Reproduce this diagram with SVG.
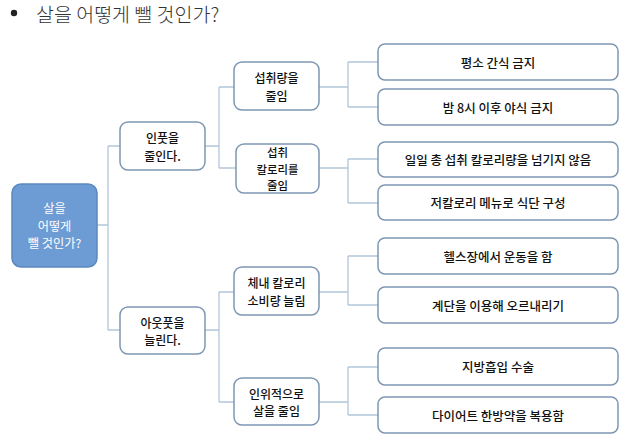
<svg xmlns="http://www.w3.org/2000/svg" width="631" height="445" viewBox="0 0 631 445">
<style>
text{font-family:"Noto Sans CJK KR","Noto Sans",sans-serif;text-anchor:middle;dominant-baseline:central;fill:#111;font-size:12px;font-weight:500}
.lf{font-size:12.5px}
.sm{font-size:11.4px}
.box{fill:#fff;stroke:#7d96b2;stroke-width:1.5}
.root{fill:#6d9bd3;stroke:#5b88bf;stroke-width:1.5}
.rt{fill:#fff;font-size:12.2px;font-weight:400}
#connectors path{fill:none;stroke:#b3c6da;stroke-width:1.3}
</style>
<rect width="631" height="445" fill="#fff"/>
<g id="title">
<circle cx="14" cy="13" r="3.2" fill="#222"/>
<text x="36" y="13" style="text-anchor:start;font-size:19.5px;fill:#333;font-weight:300">살을 어떻게 뺄 것인가?</text>
</g>
<g id="connectors">
<path d="M97 225H108M108 146V330M108 146H120M108 330H120"/>
<path d="M205 146H219M219 87V168M219 87H234M219 168H236"/>
<path d="M205 330H219M219 292V402M219 292H234M219 402H234"/>
<path d="M319 87H348M348 62V107M348 62H378M348 107H378"/>
<path d="M319 168H348M348 159V203M348 159H378M348 203H378"/>
<path d="M319 292H348M348 256V305M348 256H378M348 305H378"/>
<path d="M319 402H348M348 367V415M348 367H378M348 415H378"/>
</g>
<g id="root"><rect class="root" x="12" y="184" width="85" height="83" rx="9"/><text class="rt" x="54.5" y="208">살을</text><text class="rt" x="54.5" y="225.5">어떻게</text><text class="rt" x="54.5" y="243">뺄 것인가?</text></g>
<g id="n1"><rect class="box" x="120" y="122" width="85" height="48" rx="8"/><text x="162.5" y="137.5">인풋을</text><text x="162.5" y="155">줄인다.</text></g>
<g id="n2"><rect class="box" x="120" y="307" width="85" height="47" rx="8"/><text x="162.5" y="322">아웃풋을</text><text x="162.5" y="339.5">늘린다.</text></g>
<g id="n11"><rect class="box" x="234" y="62" width="85" height="48" rx="8"/><text x="276.5" y="77.5">섭취량을</text><text x="276.5" y="95">줄임</text></g>
<g id="n12"><rect class="box" x="236" y="144" width="83" height="49" rx="8"/><text class="sm" x="277.5" y="152">섭취</text><text class="sm" x="277.5" y="168.5">칼로리를</text><text class="sm" x="277.5" y="185">줄임</text></g>
<g id="n21"><rect class="box" x="234" y="267" width="85" height="48" rx="8"/><text x="276.5" y="282.5">체내 칼로리</text><text x="276.5" y="300">소비량 늘림</text></g>
<g id="n22"><rect class="box" x="234" y="378" width="85" height="47" rx="8"/><text x="276.5" y="393">인위적으로</text><text x="276.5" y="410.5">살을 줄임</text></g>
<g id="l1"><rect class="box" x="378" y="44" width="240" height="36" rx="7"/><text class="lf" x="498" y="62">평소 간식 금지</text></g>
<g id="l2"><rect class="box" x="378" y="89" width="240" height="36" rx="7"/><text class="lf" x="498" y="107">밤 8시 이후 야식 금지</text></g>
<g id="l3"><rect class="box" x="378" y="142" width="240" height="35" rx="7"/><text class="lf" x="498" y="159.5">일일 총 섭취 칼로리량을 넘기지 않음</text></g>
<g id="l4"><rect class="box" x="378" y="185" width="240" height="35" rx="7"/><text class="lf" x="498" y="202.5">저칼로리 메뉴로 식단 구성</text></g>
<g id="l5"><rect class="box" x="378" y="238" width="240" height="36" rx="7"/><text class="lf" x="498" y="256">헬스장에서 운동을 함</text></g>
<g id="l6"><rect class="box" x="378" y="287" width="240" height="36" rx="7"/><text class="lf" x="498" y="305">계단을 이용해 오르내리기</text></g>
<g id="l7"><rect class="box" x="378" y="348" width="240" height="37" rx="7"/><text class="lf" x="498" y="366.5">지방흡입 수술</text></g>
<g id="l8"><rect class="box" x="378" y="397" width="240" height="36" rx="7"/><text class="lf" x="498" y="415">다이어트 한방약을 복용함</text></g>
</svg>
